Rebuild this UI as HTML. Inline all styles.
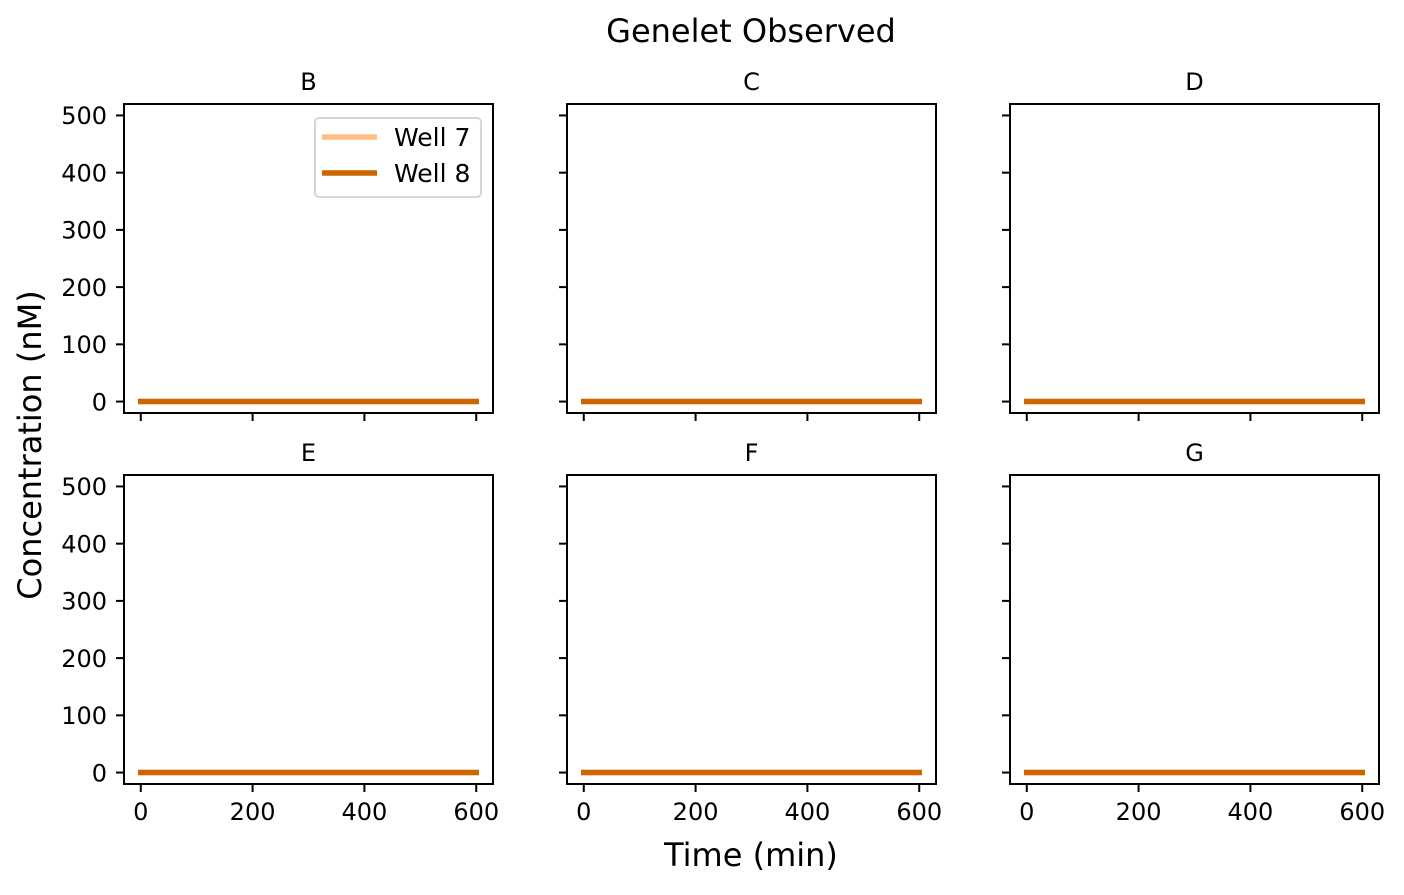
<!DOCTYPE html>
<html><head><meta charset="utf-8"><style>
body{margin:0;background:#fff;}
svg text{font-family:"DejaVu Sans","Liberation Sans",sans-serif;fill:#000;}
</style></head><body>
<svg id="chart" width="1404" height="890" viewBox="0 0 1404 890">
<text x="751" y="42" font-size="32" text-anchor="middle">Genelet Observed</text>
<text x="751" y="866" font-size="32" text-anchor="middle">Time (min)</text>
<text transform="translate(41,445) rotate(-90)" font-size="32" text-anchor="middle">Concentration (nM)</text>
<g id="panels"></g>
</svg>
<script>
const panelNames = ["B","C","D","E","F","G"];
const times = [0,60,120,180,240,300,360,420,480,540,600];
const well7 = [
 [0,0,0,0,0,0,0,0,0,0,0],[0,0,0,0,0,0,0,0,0,0,0],[0,0,0,0,0,0,0,0,0,0,0],
 [0,0,0,0,0,0,0,0,0,0,0],[0,0,0,0,0,0,0,0,0,0,0],[0,0,0,0,0,0,0,0,0,0,0]];
const well8 = [
 [0,0,0,0,0,0,0,0,0,0,0],[0,0,0,0,0,0,0,0,0,0,0],[0,0,0,0,0,0,0,0,0,0,0],
 [0,0,0,0,0,0,0,0,0,0,0],[0,0,0,0,0,0,0,0,0,0,0],[0,0,0,0,0,0,0,0,0,0,0]];
const xTicks = [0,200,400,600];
const yTicks = [0,100,200,300,400,500];

const NS="http://www.w3.org/2000/svg";
const root=document.getElementById("panels");
const colX=[124,567,1010], rowY=[104,475], W=369, H=309;
const xMin=-30,xMax=630,yMin=-20,yMax=520;
function mk(tag,attrs,parent){const e=document.createElementNS(NS,tag);for(const k in attrs)e.setAttribute(k,attrs[k]);parent.appendChild(e);return e;}
panelNames.forEach((name,i)=>{
  const c=i%3,r=Math.floor(i/3);
  const x0=colX[c],y0=rowY[r];
  const sx=v=>x0+(v-xMin)/(xMax-xMin)*W;
  const sy=v=>y0+H-(v-yMin)/(yMax-yMin)*H;
  const g=mk("g",{},root);
  
  
  const t=mk("text",{x:x0+W/2,y:y0-14,"font-size":"24","text-anchor":"middle"},g);t.textContent=name;
  
  
  yTicks.forEach(v=>{
    const tk=mk("line",{x1:x0-8,x2:x0,y1:sy(v),y2:sy(v),stroke:"#000","stroke-width":2},g);
    
    
    if(c===0){const l=mk("text",{x:x0-17,y:sy(v)+8.8,"font-size":"24","text-anchor":"end"},g);l.textContent=v;
      
      }
  });
  xTicks.forEach(v=>{
    const tk=mk("line",{x1:sx(v),x2:sx(v),y1:y0+H,y2:y0+H+8,stroke:"#000","stroke-width":2},g);
    
    
    if(r===1){const l=mk("text",{x:sx(v),y:y0+H+36,"font-size":"24","text-anchor":"middle"},g);l.textContent=v;
      
      }
  });
  [[well7[i],"#ffbe86"],[well8[i],"#cc6600"]].forEach(([vals,col],k)=>{
    const p=mk("polyline",{points:times.map((t,j)=>sx(t)+","+sy(vals[j])).join(" "),fill:"none",stroke:col,"stroke-width":5.5,"stroke-linecap":"square"},g);
    
    
  });
  const fr=mk("rect",{x:x0,y:y0,width:W,height:H,fill:"none",stroke:"#000","stroke-width":2},g);
  
  
  if(i===0){
    const lg=mk("g",{},g);
    
    
    mk("rect",{x:315,y:118,width:166,height:79,rx:4,fill:"#fff",stroke:"#d6d6d6","stroke-width":2},lg);
    [["Well 7","#ffbe86",137],["Well 8","#cc6600",173]].forEach(([lab,col,y])=>{
      const e=mk("g",{},lg);
      
      
      mk("line",{x1:322,x2:377,y1:y,y2:y,stroke:col,"stroke-width":5.5},e);
      const tx=mk("text",{x:394,y:y+9,"font-size":"25"},e);tx.textContent=lab;
    });
  }
});
</script>
</body></html>
